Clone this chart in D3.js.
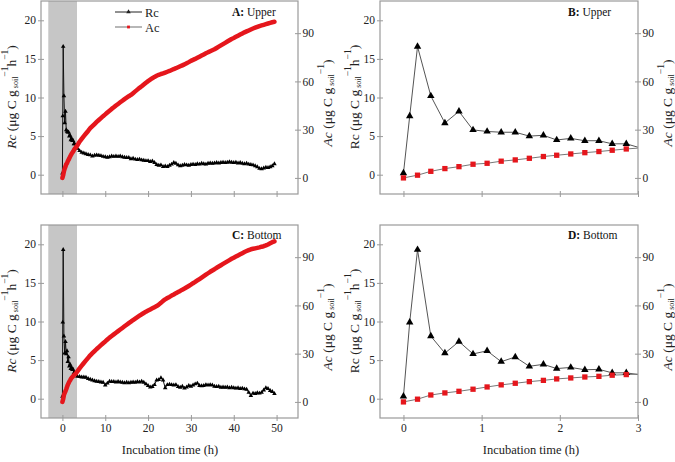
<!DOCTYPE html>
<html><head><meta charset="utf-8">
<script src="https://cdn.jsdelivr.net/npm/d3@7"></script>
<style>body{margin:0;background:#fff}</style>
</head><body><svg id="c" width="675" height="462"></svg>
<script>
// incubation time (h)
const T = [0,0.08,0.18,0.35,0.53,0.71,0.89,1.07,1.25,1.43,1.61,1.79,1.96,2.14,2.32,2.5,2.67,2.85,3.02,
3.5,4,4.5,5,5.5,6,6.5,7,7.5,8,
8.5,9,9.5,10,10.5,11,11.5,12,12.5,13,
13.5,14,14.5,15,15.5,16,16.5,17,17.5,18,
18.5,19,19.5,20,20.5,21,21.5,22,22.5,23,
23.5,24,24.5,25,25.5,26,26.5,27,27.5,28,
28.5,29,29.5,30,30.5,31,31.5,32,32.5,33,
33.5,34,34.5,35,35.5,36,36.5,37,37.5,38,
38.5,39,39.5,40,40.5,41,41.5,42,42.5,43,
43.5,44,44.5,45,45.5,46,46.5,47,47.5,48,
48.5,49,49.5];
const rcUpper = [0.2,7.6,16.6,10.2,6.7,8.2,5.8,5.6,5.5,5.5,5.0,5.1,4.5,4.7,4.4,4.4,4.0,4.0,3.5,
3.4,3.1,2.9,2.8,2.7,2.6,2.55,2.4,2.5,2.55,
2.5,2.45,2.35,2.3,2.25,2.3,2.4,2.35,2.4,2.35,
2.4,2.3,2.25,2.2,2.2,2.05,2.1,2.0,1.95,2.0,
1.9,1.85,1.8,1.8,1.7,1.75,1.55,1.3,1.2,1.25,
1.05,1.1,1.05,1.2,1.35,1.55,1.45,1.25,1.15,1.2,
1.3,1.25,1.2,1.3,1.35,1.3,1.4,1.35,1.45,1.4,
1.35,1.45,1.5,1.45,1.5,1.55,1.5,1.55,1.6,1.55,
1.6,1.65,1.6,1.55,1.6,1.5,1.55,1.45,1.4,1.45,
1.35,1.3,1.25,1.15,1.0,0.8,0.75,0.85,0.95,0.9,
1.0,1.15,1.4];
const acUpper = [0,null,1.7,4.1,5.8,7.0,8.5,9.1,10.4,11.2,12.2,13.3,14.1,14.9,15.7,16.4,17.2,18.0,18.6,
20.2,22.5,24.3,26.0,27.6,29.2,30.9,32.2,33.5,34.8,
36.0,37.2,38.4,39.5,40.7,41.8,42.9,43.9,45.0,46.0,
47.0,48.0,49.0,49.9,50.8,51.6,52.7,53.8,54.9,56.0,
57.0,58.1,59.2,60.2,61.1,62.0,62.8,63.5,64.1,64.6,
65.0,65.5,66.0,66.5,67.1,67.7,68.2,68.8,69.4,70.0,
70.6,71.3,72.0,72.8,73.4,74.0,74.7,75.4,76.1,76.8,
77.5,78.1,78.8,79.4,80.0,80.8,81.6,82.4,83.2,84.0,
84.8,85.6,86.4,87.0,87.7,88.4,89.1,89.8,90.5,91.1,
91.7,92.3,92.9,93.4,93.9,94.4,94.8,95.2,95.6,96.0,
96.4,96.8,97.1];
const rcBottom = [0.3,9.9,19.3,8.1,5.9,7.4,5.8,6.2,4.8,5.4,4.2,4.45,3.9,4.05,3.75,3.8,3.35,3.35,3.1,
2.9,2.85,2.8,2.8,2.75,2.6,2.5,2.4,2.3,2.25,
2.2,2.15,2.1,1.75,2.0,2.25,2.2,2.2,2.15,2.2,
2.15,2.1,2.05,2.1,2.05,2.1,2.15,2.1,2.2,2.15,
2.25,2.1,1.9,1.7,1.5,1.55,1.8,2.4,2.45,2.7,
2.4,1.4,1.8,1.85,1.8,1.75,1.8,1.55,1.45,1.6,
1.35,1.5,1.7,1.6,1.75,1.9,2.0,1.7,1.65,1.7,
1.8,1.75,1.8,1.75,1.6,1.55,1.6,1.45,1.5,1.45,
1.5,1.4,1.45,1.4,1.35,1.4,1.3,1.35,1.25,1.2,
0.8,0.4,0.7,0.65,0.75,0.7,0.8,1.1,1.4,1.3,
1.05,0.9,0.65];
const acBottom = [0,null,1.7,4.3,5.6,6.6,7.9,9.3,10.6,11.6,12.6,13.4,14.3,14.9,15.5,15.9,16.6,17.0,17.3,
19.0,20.8,22.5,24.2,25.8,27.4,29.0,30.3,31.6,32.9,
34.1,35.3,36.5,37.6,38.8,40.0,41.0,42.0,43.0,44.0,
45.0,46.0,47.0,48.0,49.0,49.9,50.9,51.8,52.7,53.6,
54.5,55.3,56.1,56.8,57.5,58.2,58.9,59.6,60.5,61.6,
62.8,63.8,64.6,65.3,66.1,66.8,67.6,68.3,69.0,69.8,
70.5,71.3,72.1,72.9,73.8,74.6,75.5,76.4,77.3,78.2,
79.1,80.0,80.9,81.7,82.5,83.4,84.2,85.0,85.8,86.6,
87.4,88.2,89.0,89.7,90.4,91.1,91.8,92.5,93.2,93.8,
94.4,94.9,95.2,95.5,95.8,96.1,96.5,96.8,97.3,97.9,
98.6,99.3,99.8];
const rcTicks = [0,5,10,15,20];
const acTicks = [0,30,60,90];
const longTicks = [0,10,20,30,40,50];
const shortTicks = [0,1,2,3];
const shadedSpan = [-3.3,3.4];
const panelLabels = [["A:"," Upper"],["B:"," Upper"],["C:"," Bottom"],["D:"," Bottom"]];
const seriesNames = ["Rc","Ac"];
const xTitle = "Incubation time (h)";

const FF = "Liberation Serif";
const svg = d3.select("#c");
const H = 193;
const RED = "#e5161c", AXC = "#9a9a9a";
const panels = [
  {x0:41,x1:298,top:1,xd:[-5,55],xt:longTicks,rc:rcUpper,ac:acUpper,detail:false,rcIt:true,xlab:false,lbl:panelLabels[0],lx:232,ly:15.5,legend:true,ylx:11,yrx:327},
  {x0:380,x1:638,top:1,xd:[-0.3,3],xt:shortTicks,rc:rcUpper,ac:acUpper,detail:true,rcIt:false,xlab:false,lbl:panelLabels[1],lx:568,ly:16,ylx:354,yrx:667},
  {x0:41,x1:298,top:225,xd:[-5,55],xt:longTicks,rc:rcBottom,ac:acBottom,detail:false,rcIt:true,xlab:true,lbl:panelLabels[2],lx:232,ly:238.5,ylx:11,yrx:327,xtx:170},
  {x0:380,x1:638,top:225,xd:[-0.3,3],xt:shortTicks,rc:rcBottom,ac:acBottom,detail:true,rcIt:false,xlab:true,lbl:panelLabels[3],lx:568,ly:238.5,ylx:354,yrx:667,xtx:531}
];

panels.forEach((p,i)=>{
  const g = svg.append("g");
  const xs = d3.scaleLinear(p.xd,[p.x0,p.x1]);
  const yl = d3.scaleLinear([-2.5,22.5],[p.top+H,p.top]);
  const yr = d3.scaleLinear([-10,110],[p.top+H,p.top]);
  const cid = "clip"+i;
  svg.append("defs").append("clipPath").attr("id",cid).append("rect")
    .attr("x",p.x0).attr("y",p.top).attr("width",p.x1-p.x0).attr("height",H);
  const plot = g.append("g").attr("clip-path",`url(#${cid})`);
  const rcPts = T.map((t,k)=>[t,p.rc[k]]);
  const acPts = T.map((t,k)=>[t,p.ac[k]]).filter(d=>d[1]!==null);
  if(!p.detail){
    plot.append("rect").attr("x",xs(shadedSpan[0])).attr("y",p.top)
      .attr("width",xs(shadedSpan[1])-xs(shadedSpan[0])).attr("height",H).attr("fill","#c6c6c6");
    plot.append("path").datum(rcPts).attr("fill","none").attr("stroke","#111").attr("stroke-width",1)
      .attr("d",d3.line().x(d=>xs(d[0])).y(d=>yl(d[1])));
    plot.selectAll(".rcm").data(rcPts).join("path").attr("fill","#000")
      .attr("transform",d=>`translate(${xs(d[0])},${yl(d[1])})`)
      .attr("d",d3.symbol(d3.symbolTriangle,9));
    plot.append("path").datum(acPts).attr("fill","none").attr("stroke",RED).attr("stroke-width",4.5)
      .attr("stroke-linejoin","round").attr("stroke-linecap","round")
      .attr("d",d3.line().x(d=>xs(d[0])).y(d=>yr(d[1])));
  } else {
    plot.append("path").datum(rcPts).attr("fill","none").attr("stroke","#555").attr("stroke-width",1)
      .attr("d",d3.line().x(d=>xs(d[0])).y(d=>yl(d[1])));
    plot.append("path").datum(acPts).attr("fill","none").attr("stroke","#777").attr("stroke-width",1)
      .attr("d",d3.line().x(d=>xs(d[0])).y(d=>yr(d[1])));
    plot.selectAll(".rcm").data(rcPts.filter(d=>d[0]<3)).join("path").attr("fill","#000")
      .attr("transform",d=>`translate(${xs(d[0])},${yl(d[1])})`)
      .attr("d",d3.symbol(d3.symbolTriangle,24));
    plot.selectAll(".acm").data(acPts.filter(d=>d[0]<3)).join("path").attr("fill",RED)
      .attr("transform",d=>`translate(${xs(d[0])},${yr(d[1])})`)
      .attr("d",d3.symbol(d3.symbolSquare,28));
  }
  g.append("rect").attr("x",p.x0).attr("y",p.top).attr("width",p.x1-p.x0).attr("height",H)
    .attr("fill","none").attr("stroke",AXC).attr("stroke-width",1.2);
  const fmt = d => String(d);
  const la = g.append("g").attr("transform",`translate(${p.x0},0)`)
    .call(d3.axisLeft(yl).tickValues(rcTicks).tickFormat(fmt).tickSizeInner(3).tickSizeOuter(0).tickPadding(2));
  la.selectAll(".tick line").attr("x1",3);
  const ra = g.append("g").attr("transform",`translate(${p.x1},0)`)
    .call(d3.axisRight(yr).tickValues(acTicks).tickFormat(fmt).tickSizeInner(3).tickSizeOuter(0).tickPadding(1.5));
  ra.selectAll(".tick line").attr("x1",-3);
  const ba = g.append("g").attr("transform",`translate(0,${p.top+H})`)
    .call(d3.axisBottom(xs).tickValues(p.xt).tickFormat(fmt).tickSizeInner(3).tickSizeOuter(0).tickPadding(3));
  ba.selectAll(".tick line").attr("y1",-3);
  if(!p.xlab) ba.selectAll(".tick text").remove();
  [la,ra,ba].forEach(a=>{
    a.attr("font-family",FF).attr("font-size",11.5);
    a.select(".domain").remove();
    a.selectAll(".tick line").attr("stroke",AXC);
    a.selectAll(".tick text").attr("fill","#222");
  });
  const cy = p.top + 96;
  const lt = g.append("text").attr("transform",`translate(${p.ylx},${cy}) rotate(-90)`)
    .attr("text-anchor","middle").attr("dominant-baseline","central").attr("font-size",13.5).attr("font-family",FF).attr("fill","#222");
  lt.append("tspan").style("font-style",p.rcIt?"italic":"normal").text(seriesNames[0]);
  lt.append("tspan").text(" (μg C g");
  lt.append("tspan").attr("font-size",8).attr("dy",4).text(" soil");
  lt.append("tspan").attr("font-size",9.5).attr("dy",-10).text("−1");
  lt.append("tspan").attr("dy",6).text("h");
  lt.append("tspan").attr("font-size",9.5).attr("dy",-6).text("−1");
  lt.append("tspan").attr("dy",6).text(")");
  const rt = g.append("text").attr("transform",`translate(${p.yrx},${cy+6}) rotate(-90)`)
    .attr("text-anchor","middle").attr("dominant-baseline","central").attr("font-size",13.5).attr("font-family",FF).attr("fill","#222");
  rt.append("tspan").style("font-style","italic").text(seriesNames[1]);
  rt.append("tspan").text(" (μg C g");
  rt.append("tspan").attr("font-size",8).attr("dy",4).text(" soil");
  rt.append("tspan").attr("font-size",9.5).attr("dy",-10).text("−1");
  rt.append("tspan").attr("dy",6).text(")");
  const pl = g.append("text").attr("x",p.lx).attr("y",p.ly).attr("font-size",11.5).attr("font-family",FF).attr("fill","#111");
  pl.append("tspan").style("font-weight","bold").text(p.lbl[0]);
  pl.append("tspan").text(p.lbl[1]);
  if(p.xlab){
    g.append("text").attr("x",p.xtx).attr("y",454).attr("text-anchor","middle")
      .attr("font-size",12.5).attr("font-family",FF).attr("fill","#222").text(xTitle);
  }
  if(p.legend){
    const lg = g.append("g").attr("font-family",FF).attr("font-size",12.5).attr("fill","#222");
    lg.append("line").attr("x1",115).attr("x2",142).attr("y1",12).attr("y2",12).attr("stroke","#222");
    lg.append("path").attr("transform","translate(128.5,12)").attr("d",d3.symbol(d3.symbolTriangle,9));
    lg.append("text").attr("x",145).attr("y",16.5).text(seriesNames[0]);
    lg.append("line").attr("x1",115).attr("x2",142).attr("y1",27).attr("y2",27).attr("stroke","#888").attr("stroke-width",1.2);
    lg.append("path").attr("transform","translate(128.5,27)").attr("fill",RED).attr("d",d3.symbol(d3.symbolSquare,8));
    lg.append("text").attr("x",145).attr("y",31.5).text(seriesNames[1]);
  }
});
</script></body></html>
